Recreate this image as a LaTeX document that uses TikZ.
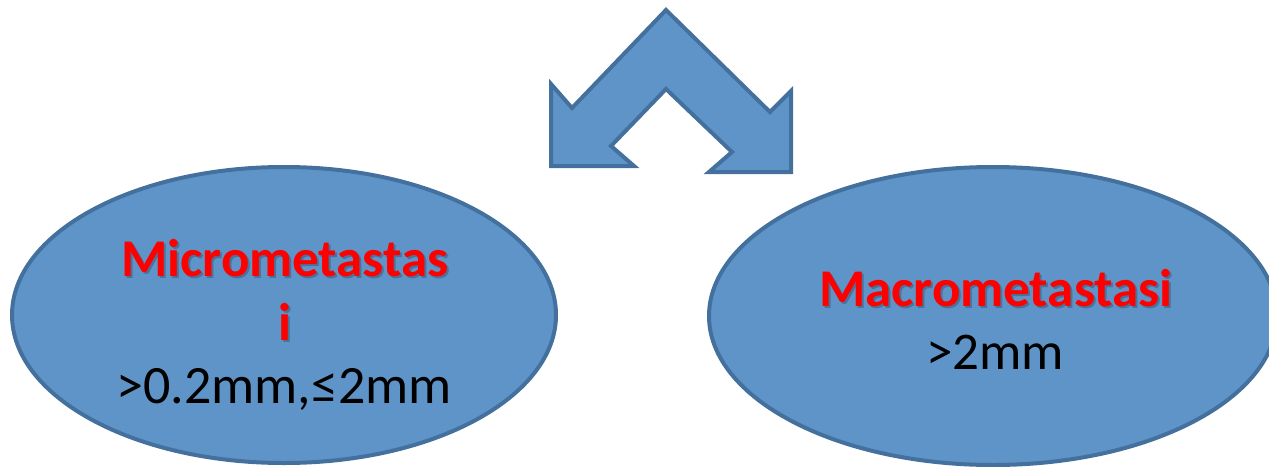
\documentclass[tikz,border=0pt]{standalone}
\usepackage{fontspec}
\setmainfont{Carlito}
\usetikzlibrary{shapes.geometric}
\definecolor{shapefill}{RGB}{95,148,200}
\definecolor{shapeline}{RGB}{68,112,158}
\definecolor{titlered}{RGB}{255,0,0}
\tikzset{
  blob/.style={ellipse, draw=shapeline, line width=4pt, fill=shapefill, inner sep=0pt},
  title/.style={anchor=base, text=titlered, font=\fontsize{53}{60}\selectfont\bfseries},
  titleshadow/.style={anchor=base, text=black, opacity=0.22, font=\fontsize{53}{60}\selectfont\bfseries},
  caption/.style={anchor=base, text=black, font=\fontsize{#1}{#1}\selectfont},
  caption/.default=53
}
\begin{document}
\begin{tikzpicture}[x=1pt,y=-1pt]
  \useasboundingbox (0,0) rectangle (1269,466);
  \begin{scope}
    \clip (0,0) rectangle (1269,466);
    % split arrow pointing down-left and down-right
    \draw[draw=shapeline, line width=4pt, fill=shapefill, line join=miter]
      (666,10) -- (770,112) -- (791,91) -- (791,172) -- (709,172) -- (732,152)
      -- (666,89) -- (611,146) -- (634,166) -- (551,166) -- (551,84) -- (572,108) -- cycle;
    % the two outcomes
    \node[blob, minimum width=544pt, minimum height=296pt] (micro) at (284,315) {};
    \node[blob, minimum width=568pt, minimum height=298pt] (macro) at (993,316) {};
  \end{scope}
  % left labels
  \node[titleshadow] (microA-s) at (287,278) {Micrometastas};
  \node[title] (microA) at (285,276) {Micrometastas};
  \node[titleshadow] (microB-s) at (287,342) {i};
  \node[title] (microB) at (285,340) {i};
  \node[caption=54] (microsize) at (284,403) {>0.2mm,≤2mm};
  % right labels
  \node[titleshadow] (macroA-s) at (998,308) {Macrometastasi};
  \node[title] (macroA) at (996,306) {Macrometastasi};
  \node[caption] (macrosize) at (995,369) {>2mm};
\end{tikzpicture}
\end{document}
